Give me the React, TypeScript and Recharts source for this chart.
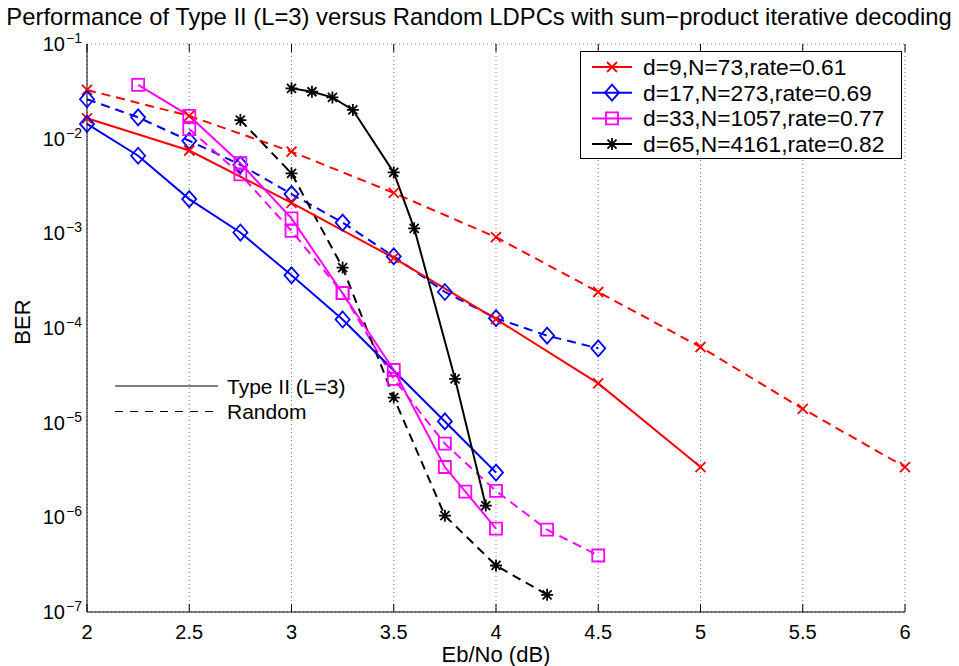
import { LineChart, Line, XAxis, YAxis, CartesianGrid, Legend } from "recharts";

document.body.style.margin = "0";

const W = 959;
const H = 666;
const PLOT = { left: 87, right: 905, top: 44, bottom: 612 };
const FONT = '"Liberation Sans", Arial, Helvetica, sans-serif';

const X_TICKS = [2, 2.5, 3, 3.5, 4, 4.5, 5, 5.5, 6];
const Y_DECADES = [1e-7, 1e-6, 1e-5, 1e-4, 1e-3, 1e-2, 1e-1];
// every 1..9 x 10^n line for the log grid
const Y_GRID = Y_DECADES.slice(0, -1)
  .flatMap((d) => [1, 2, 3, 4, 5, 6, 7, 8, 9].map((k) => k * d))
  .concat([1e-1]);

// d=9, N=73, rate=0.61
const EBNO_D9_TYPE2 = [2, 2.5, 3, 3.5, 4, 4.5, 5];
const BER_D9_TYPE2 = [1.64e-2, 7.5e-3, 2.1e-3, 5.5e-4, 1.24e-4, 2.6e-5, 3.4e-6];
const EBNO_D9_RANDOM = [2, 2.5, 3, 3.5, 4, 4.5, 5, 5.5, 6];
const BER_D9_RANDOM = [3.27e-2, 1.74e-2, 7.3e-3, 2.67e-3, 9.1e-4, 2.4e-4, 6.3e-5, 1.4e-5, 3.4e-6];

// d=17, N=273, rate=0.69
const EBNO_D17_TYPE2 = [2, 2.25, 2.5, 2.75, 3, 3.25, 3.75, 4];
const BER_D17_TYPE2 = [1.43e-2, 6.6e-3, 2.3e-3, 1.02e-3, 3.6e-4, 1.23e-4, 1.03e-5, 2.97e-6];
const EBNO_D17_RANDOM = [2, 2.25, 2.5, 2.75, 3, 3.25, 3.5, 3.75, 4, 4.25, 4.5];
const BER_D17_RANDOM = [2.61e-2, 1.68e-2, 9.5e-3, 5.3e-3, 2.6e-3, 1.3e-3, 5.7e-4, 2.4e-4, 1.27e-4, 8.3e-5, 6.1e-5];

// d=33, N=1057, rate=0.77
const EBNO_D33_TYPE2 = [2.25, 2.5, 2.75, 3, 3.25, 3.5, 3.75, 3.85, 4];
const BER_D33_TYPE2 = [3.7e-2, 1.74e-2, 5.5e-3, 1.44e-3, 2.33e-4, 3.6e-5, 3.4e-6, 1.87e-6, 7.6e-7];
const EBNO_D33_RANDOM = [2.5, 2.75, 3, 3.25, 3.5, 3.75, 4, 4.25, 4.5];
const BER_D33_RANDOM = [1.26e-2, 4.2e-3, 1.06e-3, 2.33e-4, 2.9e-5, 6.0e-6, 1.9e-6, 7.4e-7, 3.95e-7];

// d=65, N=4161, rate=0.82
const EBNO_D65_TYPE2 = [3, 3.1, 3.2, 3.3, 3.5, 3.6, 3.8, 3.95];
const BER_D65_TYPE2 = [3.4e-2, 3.13e-2, 2.73e-2, 2.01e-2, 4.4e-3, 1.13e-3, 2.9e-5, 1.33e-6];
const EBNO_D65_RANDOM = [2.75, 3, 3.25, 3.5, 3.75, 4, 4.25];
const BER_D65_RANDOM = [1.57e-2, 4.3e-3, 4.35e-4, 1.84e-5, 1.04e-6, 3.1e-7, 1.52e-7];

type Row = { ebno: number; ber: number };
type MarkerKind = "x" | "diamond" | "square" | "star";

const zip = (xs: number[], ys: number[]): Row[] =>
  xs.map((x, i) => ({ ebno: x, ber: ys[i] }));

const CODES: {
  id: string;
  label: string;
  color: string;
  marker: MarkerKind;
  type2: Row[];
  random: Row[];
}[] = [
  { id: "d9", label: "d=9,N=73,rate=0.61", color: "#ff0000", marker: "x", type2: zip(EBNO_D9_TYPE2, BER_D9_TYPE2), random: zip(EBNO_D9_RANDOM, BER_D9_RANDOM) },
  { id: "d17", label: "d=17,N=273,rate=0.69", color: "#0000ff", marker: "diamond", type2: zip(EBNO_D17_TYPE2, BER_D17_TYPE2), random: zip(EBNO_D17_RANDOM, BER_D17_RANDOM) },
  { id: "d33", label: "d=33,N=1057,rate=0.77", color: "#ff00ff", marker: "square", type2: zip(EBNO_D33_TYPE2, BER_D33_TYPE2), random: zip(EBNO_D33_RANDOM, BER_D33_RANDOM) },
  { id: "d65", label: "d=65,N=4161,rate=0.82", color: "#000000", marker: "star", type2: zip(EBNO_D65_TYPE2, BER_D65_TYPE2), random: zip(EBNO_D65_RANDOM, BER_D65_RANDOM) },
];

function markerPath(kind: MarkerKind, cx: number, cy: number) {
  switch (kind) {
    case "x":
      return `M${cx - 5},${cy - 5}L${cx + 5},${cy + 5}M${cx - 5},${cy + 5}L${cx + 5},${cy - 5}`;
    case "diamond":
      return `M${cx},${cy - 8}L${cx + 7},${cy}L${cx},${cy + 8}L${cx - 7},${cy}Z`;
    case "square":
      return `M${cx - 6},${cy - 6}H${cx + 6}V${cy + 6}H${cx - 6}Z`;
    case "star":
      return (
        `M${cx - 6},${cy}H${cx + 6}M${cx},${cy - 6}V${cy + 6}` +
        `M${cx - 4.5},${cy - 4.5}L${cx + 4.5},${cy + 4.5}M${cx - 4.5},${cy + 4.5}L${cx + 4.5},${cy - 4.5}`
      );
  }
}

const makeDot = (kind: MarkerKind, color: string, id: string) => (p: any) => {
  if (p.cx == null || p.cy == null) return <g key={`${id}-${p.index}`} />;
  return (
    <path
      key={`${id}-${p.index}`}
      d={markerPath(kind, p.cx, p.cy)}
      stroke={color}
      strokeWidth={1.8}
      fill="none"
    />
  );
};

const XTick = (props: any) => {
  const { x, payload } = props;
  return (
    <g>
      <line x1={x} x2={x} y1={PLOT.bottom} y2={PLOT.bottom - 8} stroke="#000" />
      <line x1={x} x2={x} y1={PLOT.top} y2={PLOT.top + 8} stroke="#000" />
      <text x={x} y={PLOT.bottom + 27} textAnchor="middle" fontSize={20} fontFamily={FONT} fill="#000">
        {payload.value}
      </text>
    </g>
  );
};

const YLabelTick = (props: any) => {
  const { y, payload } = props;
  const exp = Math.round(Math.log10(payload.value));
  return (
    <g>
      <text x={65} y={y + 7} textAnchor="end" fontSize={20} fontFamily={FONT} fill="#000">
        10
      </text>
      <text x={66} y={y - 1} textAnchor="start" fontSize={14} fontFamily={FONT} fill="#000">
        {`\u2212${Math.abs(exp)}`}
      </text>
    </g>
  );
};

const YMinorTick = (props: any) => {
  const { y, payload } = props;
  const l = Math.log10(payload.value);
  const len = Math.abs(l - Math.round(l)) < 1e-9 ? 8 : 4;
  return (
    <g>
      <line x1={PLOT.left} x2={PLOT.left + len} y1={y} y2={y} stroke="#000" />
      <line x1={PLOT.right - len} x2={PLOT.right} y1={y} y2={y} stroke="#000" />
    </g>
  );
};

const CodeLegend = () => (
  <svg width={322} height={108} style={{ display: "block" }}>
    <rect x={0.5} y={0.5} width={321} height={107} fill="#fff" stroke="#000" />
    {CODES.map((c, i) => {
      const y = 16 + i * 25.7;
      return (
        <g key={c.id}>
          <line x1={12} x2={52} y1={y} y2={y} stroke={c.color} strokeWidth={2} />
          <path d={markerPath(c.marker, 32, y)} stroke={c.color} strokeWidth={1.8} fill="none" />
          <text x={63} y={y + 8} fontSize={22.8} fontFamily={FONT} fill="#000">
            {c.label}
          </text>
        </g>
      );
    })}
  </svg>
);

export default function App() {
  return (
    <div style={{ position: "relative", width: W, height: H, background: "#fff" }}>
      <LineChart
        width={W}
        height={H}
        margin={{ top: PLOT.top, right: W - PLOT.right, bottom: 0, left: 0 }}
      >
        <XAxis
          dataKey="ebno"
          type="number"
          domain={[2, 6]}
          ticks={X_TICKS}
          interval={0}
          height={H - PLOT.bottom}
          tick={XTick}
          tickLine={false}
          axisLine={{ stroke: "#000" }}
        />
        <XAxis
          xAxisId="top"
          orientation="top"
          dataKey="ebno"
          type="number"
          domain={[2, 6]}
          height={0}
          tick={false}
          tickLine={false}
          axisLine={{ stroke: "#000" }}
        />
        <YAxis
          yAxisId="minor"
          type="number"
          scale="log"
          domain={[1e-7, 1e-1]}
          ticks={Y_GRID}
          interval={0}
          width={0}
          tick={YMinorTick}
          tickLine={false}
          axisLine={false}
        />
        <YAxis
          type="number"
          scale="log"
          domain={[1e-7, 1e-1]}
          ticks={Y_DECADES}
          interval={0}
          width={PLOT.left}
          tick={YLabelTick}
          tickLine={false}
          axisLine={{ stroke: "#000" }}
        />
        <YAxis
          yAxisId="right"
          orientation="right"
          type="number"
          scale="log"
          domain={[1e-7, 1e-1]}
          width={0}
          tick={false}
          tickLine={false}
          axisLine={{ stroke: "#000" }}
        />
        <CartesianGrid yAxisId="minor" stroke="#7a7a7a" strokeDasharray="1 3" />
        {CODES.map((c) => (
          <Line
            key={`${c.id}-random`}
            data={c.random}
            dataKey="ber"
            type="linear"
            stroke={c.color}
            strokeWidth={2}
            strokeDasharray="9 6"
            dot={makeDot(c.marker, c.color, `${c.id}-r`)}
            activeDot={false}
            isAnimationActive={false}
          />
        ))}
        {CODES.map((c) => (
          <Line
            key={`${c.id}-type2`}
            data={c.type2}
            dataKey="ber"
            type="linear"
            stroke={c.color}
            strokeWidth={2}
            dot={makeDot(c.marker, c.color, `${c.id}-t`)}
            activeDot={false}
            isAnimationActive={false}
          />
        ))}
        <Legend
          layout="vertical"
          align="center"
          verticalAlign="middle"
          wrapperStyle={{ left: 580, top: 51, width: 322, height: 108 }}
          content={() => <CodeLegend />}
        />
      </LineChart>
      <svg
        width={W}
        height={H}
        style={{ position: "absolute", left: 0, top: 0, pointerEvents: "none" }}
        fontFamily={FONT}
      >
        <text x={479} y={25} textAnchor="middle" fontSize={23.8} fill="#000">
          Performance of Type II (L=3) versus Random LDPCs with sum{"\u2212"}product iterative decoding
        </text>
        <text x={496} y={662} textAnchor="middle" fontSize={22} fill="#000">
          Eb/No (dB)
        </text>
        <text transform="translate(30,322) rotate(-90)" textAnchor="middle" fontSize={22} fill="#000">
          BER
        </text>
        <line x1={115} x2={218} y1={386} y2={386} stroke="#000" strokeWidth={1} />
        <line x1={115} x2={218} y1={411.5} y2={411.5} stroke="#000" strokeWidth={1} strokeDasharray="8 7" />
        <text x={227} y={393.5} fontSize={21} fill="#000">
          Type II (L=3)
        </text>
        <text x={227} y={419} fontSize={21} fill="#000">
          Random
        </text>
      </svg>
    </div>
  );
}
